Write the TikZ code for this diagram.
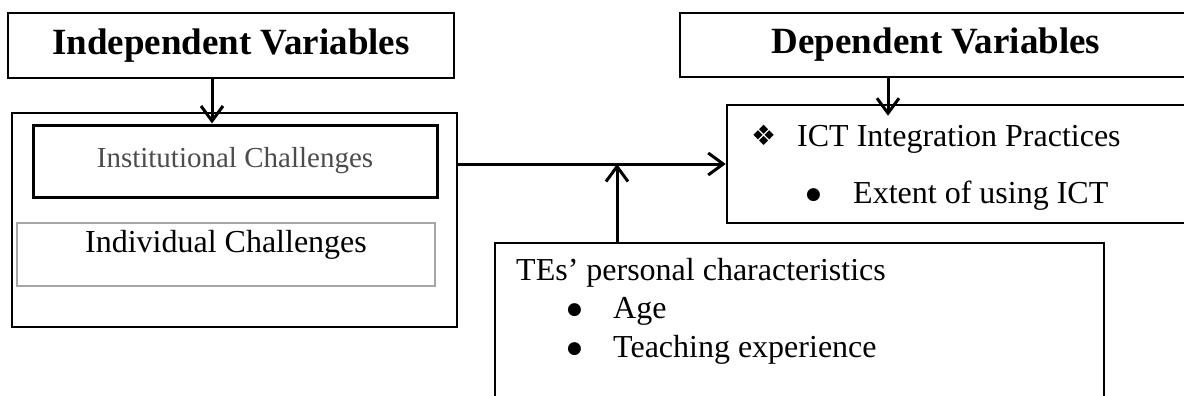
\documentclass[tikz,border=0pt]{standalone}
\usepackage{fontspec}
\setmainfont{Liberation Serif}
\newfontfamily\symfont{DejaVu Sans}
\usetikzlibrary{arrows.meta}
\newcommand{\bigbullet}{\raisebox{4pt}{\symfont\fontsize{17}{17}\selectfont ●}}
\tikzset{
  box/.style={draw, line width=2.5pt, inner sep=0pt},
  titlefont/.style={font=\fontsize{37}{44}\selectfont\bfseries},
  bodyfont/.style={font=\fontsize{32}{38}\selectfont},
  linetext/.style={bodyfont, anchor=base west, inner sep=0pt},
  arr/.style={line width=3pt, -{Straight Barb[length=15pt,width=22pt,line width=3pt]}},
}

\begin{document}
\begin{tikzpicture}[x=1pt, y=-1pt]
          \useasboundingbox (0,0) rectangle (1184,396);
          % independent side
          \node[box, titlefont, minimum width=446pt, minimum height=65pt] (indep) at (231,45.5) {Independent Variables};
          \node[box, minimum width=445pt, minimum height=214pt] (outer) at (234.5,220) {};
          \node[box, line width=3pt, font=\fontsize{29}{34}\selectfont, text=black!70, minimum width=404pt, minimum height=72pt] (inst) at (235,161) {Institutional Challenges};
          \node[box, draw=black!35, line width=2pt, minimum width=418pt, minimum height=63pt] (indivbox) at (226,254.5) {};
          \node[bodyfont, anchor=base] (indiv) at (226,252) {Individual Challenges};

          % dependent side
          \node[box, titlefont, minimum width=512pt, minimum height=64pt] (dep) at (936,45) {Dependent Variables};
          \node[box, minimum width=465pt, minimum height=118pt] (ict) at (959.5,164) {};
          \node[linetext] (ictline) at (751,146) {\makebox[46pt][l]{\raisebox{1pt}{\symfont\fontsize{28}{30}\selectfont ❖}}ICT Integration Practices};
          \node[linetext] (ictsub) at (806,203) {\makebox[47pt][l]{\bigbullet}Extent of using ICT};

          % moderating box
          \node[box, minimum width=609pt, minimum height=180pt] (tes) at (799.5,333) {};
          \node[linetext] (tes1) at (516,280) {TEs’ personal characteristics};
          \node[linetext] (tes2) at (567,318) {\makebox[46pt][l]{\bigbullet}Age};
          \node[linetext] (tes3) at (567,357) {\makebox[46pt][l]{\bigbullet}Teaching experience};

          \draw[arr] ([xshift=-19pt]indep.south) -- ([xshift=-23pt]inst.north);
          \draw[arr, shorten >=-12pt] ([xshift=-48pt]dep.south) -- ([xshift=-71.5pt]ict.north);
          \draw[arr] (outer.east |- ict.west) -- (ict.west);
          \coordinate (mod) at ([xshift=-182.5pt]tes.north);
          \draw[arr] (mod) -- (mod |- ict.west);
        \end{tikzpicture}
\end{document}
